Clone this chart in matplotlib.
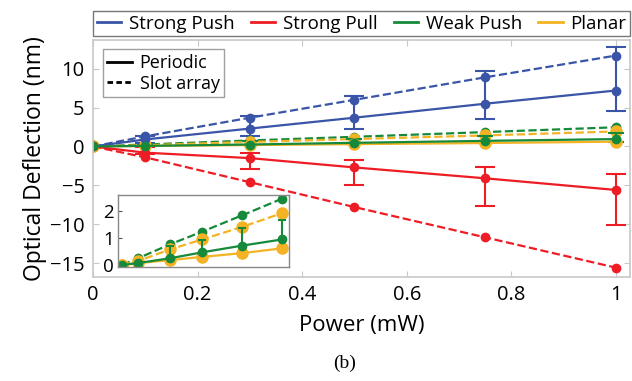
import matplotlib
matplotlib.use('Agg')
import matplotlib.pyplot as plt
from matplotlib.lines import Line2D
import numpy as np

plt.rcParams['font.family'] = ['Open Sans', 'DejaVu Sans']

power = [0, 0.1, 0.3, 0.5, 0.75, 1.0]

# periodic (solid) values with asymmetric error bars
push_per = [0, 0.9, 2.3, 3.7, 5.5, 7.2]
push_lo = [0, 0.4, 0.9, 1.4, 2.0, 2.7]
push_hi = [0, 0.5, 1.6, 2.8, 4.2, 5.6]
pull_per = [0, -0.8, -1.5, -2.7, -4.1, -5.6]
pull_lo = [0, 0.2, 1.4, 2.2, 3.5, 4.5]
pull_hi = [0, 0.7, 0.6, 1.0, 1.5, 2.1]
weak_per = [0, 0.07, 0.25, 0.47, 0.72, 0.95]
weak_lo = [0, 0.04, 0.12, 0.2, 0.3, 0.4]
weak_hi = [0, 0.06, 0.45, 0.45, 0.65, 0.72]
planar_per = [0, 0.07, 0.18, 0.3, 0.44, 0.62]

# slot array (dashed)
push_slot = [0, 1.3, 3.7, 6.0, 8.9, 11.7]
pull_slot = [0, -1.4, -4.6, -7.8, -11.7, -15.6]
weak_slot = [0, 0.25, 0.77, 1.24, 1.85, 2.47]
planar_slot = [0, 0.15, 0.58, 0.95, 1.42, 1.93]

blue = '#3a55a8'
red = '#ee1d25'
green = '#168a3a'
yellow = '#f3b324'
frame = '#c8c8c8'

fig = plt.figure(figsize=(6.32, 3.81), dpi=100)
ax = fig.add_axes([0.147, 0.273, 0.85, 0.622])

kw = dict(lw=1.6, capsize=7, capthick=1.5, elinewidth=1.5)


def draw_small(a, cap):
    a.plot(power, weak_slot, '--', color=green, marker='o', ms=6, lw=1.6)
    a.plot(power, planar_slot, '--', color=yellow, marker='o', ms=8, lw=1.6)
    a.errorbar(power, weak_per, yerr=[weak_lo, weak_hi], color=green,
               marker='o', ms=6, lw=1.6, capsize=cap, capthick=1.5, elinewidth=1.5)
    a.plot(power, planar_per, '-', color=yellow, marker='o', ms=8, lw=1.6)


ax.errorbar(power, push_per, yerr=[push_lo, push_hi], color=blue,
            marker='o', ms=6, **kw)
ax.errorbar(power, pull_per, yerr=[pull_lo, pull_hi], color=red,
            marker='o', ms=6, **kw)
ax.plot(power, push_slot, '--', color=blue, marker='o', ms=6, lw=1.6)
ax.plot(power, pull_slot, '--', color=red, marker='o', ms=6, lw=1.6)
draw_small(ax, 6)

ax.set_xlim(0, 1.027)
ax.set_ylim(-16.8, 13.7)
ax.set_xticks([0, 0.2, 0.4, 0.6, 0.8, 1])
ax.set_xticklabels(['0', '0.2', '0.4', '0.6', '0.8', '1'])
ax.set_yticks([-15, -10, -5, 0, 5, 10])
ax.tick_params(direction='in', length=4, color=frame, labelsize=14.5, pad=6,
               top=True, right=True)
for s in ax.spines.values():
    s.set_color(frame)
    s.set_linewidth(1.2)
ax.set_xlabel('Power (mW)', fontsize=16, labelpad=7)
ax.set_ylabel('Optical Deflection (nm)', fontsize=16.5, labelpad=2)

# series legend above the axes
handles = [Line2D([], [], color=c, lw=2) for c in (blue, red, green, yellow)]
leg = ax.legend(handles, ['Strong Push', 'Strong Pull', 'Weak Push', 'Planar'],
                loc='lower left', bbox_to_anchor=(0, 1.015, 1, 0.12), mode='expand',
                ncol=4, fontsize=13.5, handlelength=1.3, handletextpad=0.4,
                columnspacing=0.6, borderpad=0.2, fancybox=False, frameon=True,
                borderaxespad=0)
leg.get_frame().set_edgecolor('#555555')
leg.get_frame().set_linewidth(1.0)
ax.add_artist(leg)

style_h = [Line2D([], [], color='k', lw=2, ls='-'),
           Line2D([], [], color='k', lw=2, ls=(0, (2, 1.2)))]
leg2 = ax.legend(style_h, ['Periodic', 'Slot array'], loc='upper left',
                 bbox_to_anchor=(0.018, 0.96), fontsize=13, handlelength=1.4,
                 handletextpad=0.4, borderpad=0.25, labelspacing=0.15,
                 fancybox=False, borderaxespad=0)
leg2.get_frame().set_edgecolor('#888888')
leg2.get_frame().set_linewidth(1.0)

# inset: weak push and planar only
ins = fig.add_axes([0.187, 0.299, 0.27, 0.189])
draw_small(ins, 3)
ins.set_xlim(-0.025, 1.04)
ins.set_ylim(-0.08, 2.6)
ins.set_xticks([])
ins.set_yticks([0, 1, 2])
ins.tick_params(direction='in', length=3, labelsize=13.5, pad=3, color='#555555')
for s in ins.spines.values():
    s.set_color('#888888')
    s.set_linewidth(1.0)
ins.set_facecolor('white')

fig.text(0.545, 0.035, '(b)', fontsize=14, family='Liberation Serif', ha='center')

fig.savefig('out.png', dpi=100)
